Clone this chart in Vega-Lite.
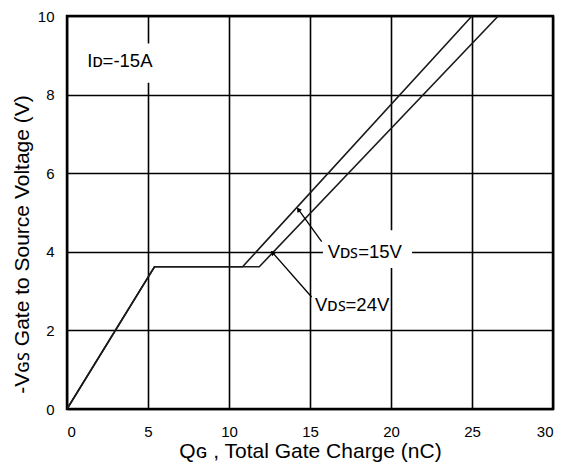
{
  "$schema": "https://vega.github.io/schema/vega-lite/v6.json",
  "width": 486,
  "height": 393,
  "autosize": "none",
  "padding": {"left": 67, "top": 16, "right": 23, "bottom": 57},
  "background": "white",
  "config": {
    "font": "Liberation Sans",
    "view": {"stroke": "black", "strokeWidth": 2.5},
    "axis": {
      "domain": false,
      "ticks": false,
      "grid": true,
      "gridColor": "black",
      "gridWidth": 1.6,
      "gridOpacity": 1,
      "labelFont": "Liberation Sans",
      "labelFontSize": 15,
      "labelColor": "black",
      "titleFont": "Liberation Sans",
      "titleFontSize": 21,
      "titleFontWeight": "normal",
      "titleColor": "black"
    }
  },
  "datasets": {
    "curves": [
      {"series": "15V", "q": 0, "v": 0},
      {"series": "15V", "q": 5.4, "v": 3.62},
      {"series": "15V", "q": 10.84, "v": 3.62},
      {"series": "15V", "q": 25, "v": 10},
      {"series": "24V", "q": 0, "v": 0},
      {"series": "24V", "q": 5.4, "v": 3.62},
      {"series": "24V", "q": 11.87, "v": 3.62},
      {"series": "24V", "q": 26.62, "v": 10}
    ],
    "boxes": [
      {"x1": 0.9, "x2": 6.0, "y1": 8.3, "y2": 9.3},
      {"x1": 15.8, "x2": 21.3, "y1": 3.59, "y2": 4.55}
    ],
    "arrows": [
      {"name": "15V", "tx": 15.72, "ty": 4.26, "hx": 14.28, "hy": 5.08},
      {"name": "24V", "tx": 15.10, "ty": 2.85, "hx": 12.69, "hy": 3.98}
    ],
    "labels": [
      {"text": "Iᴅ=-15A", "x": 1.25, "y": 8.86},
      {"text": "Vᴅꜱ=15V", "x": 16.09, "y": 4.0},
      {"text": "Vᴅꜱ=24V", "x": 15.31, "y": 2.65}
    ]
  },
  "layer": [
    {
      "data": {"name": "boxes"},
      "mark": {"type": "rect", "fill": "white", "stroke": null},
      "encoding": {
        "x": {"field": "x1", "type": "quantitative", "scale": {"domain": [0, 30], "nice": false},
          "axis": {"values": [0, 5, 10, 15, 20, 25, 30], "title": "Qɢ , Total Gate Charge (nC)", "labelPadding": 15, "titlePadding": 1}},
        "x2": {"field": "x2"},
        "y": {"field": "y1", "type": "quantitative", "scale": {"domain": [0, 10], "nice": false},
          "axis": {"values": [0, 2, 4, 6, 8, 10], "title": "-Vɢꜱ Gate to Source Voltage (V)", "labelPadding": 13, "titlePadding": 5, "titleY": 228}},
        "y2": {"field": "y2"}
      }
    },
    {
      "data": {"name": "curves"},
      "mark": {"type": "line", "color": "#1a1a1a", "strokeWidth": 1.6},
      "encoding": {
        "x": {"field": "q", "type": "quantitative"},
        "y": {"field": "v", "type": "quantitative"},
        "detail": {"field": "series"}
      }
    },
    {
      "data": {"name": "arrows"},
      "mark": {"type": "rule", "color": "black", "strokeWidth": 1.3},
      "encoding": {
        "x": {"field": "tx", "type": "quantitative"},
        "y": {"field": "ty", "type": "quantitative"},
        "x2": {"field": "hx"},
        "y2": {"field": "hy"}
      }
    },
    {
      "data": {"name": "arrows"},
      "transform": [{"filter": "datum.name === '15V'"}],
      "mark": {"type": "point", "shape": "triangle-up", "filled": true, "color": "black", "size": 30, "angle": 324, "opacity": 1},
      "encoding": {
        "x": {"field": "hx", "type": "quantitative"},
        "y": {"field": "hy", "type": "quantitative"}
      }
    },
    {
      "data": {"name": "arrows"},
      "transform": [{"filter": "datum.name === '24V'"}],
      "mark": {"type": "point", "shape": "triangle-up", "filled": true, "color": "black", "size": 30, "angle": 319, "opacity": 1},
      "encoding": {
        "x": {"field": "hx", "type": "quantitative"},
        "y": {"field": "hy", "type": "quantitative"}
      }
    },
    {
      "data": {"name": "labels"},
      "mark": {"type": "text", "align": "left", "baseline": "middle", "fontSize": 18.5, "color": "black", "font": "Liberation Sans"},
      "encoding": {
        "x": {"field": "x", "type": "quantitative"},
        "y": {"field": "y", "type": "quantitative"},
        "text": {"field": "text"}
      }
    }
  ]
}
